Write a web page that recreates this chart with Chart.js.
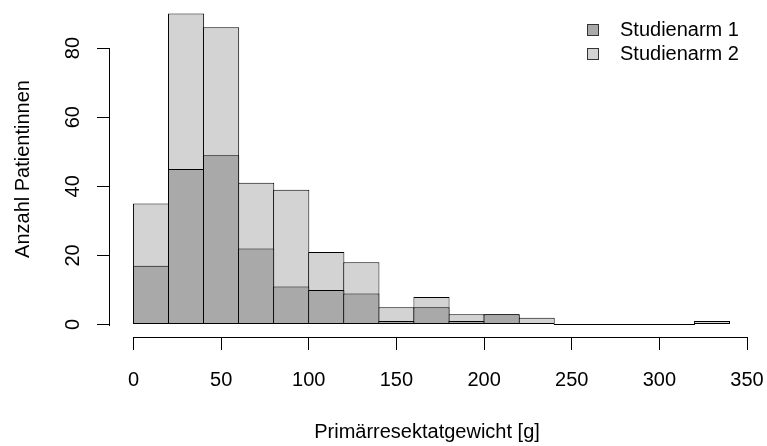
<!DOCTYPE html>
<html>
<head>
<meta charset="utf-8">
<script src="https://cdn.jsdelivr.net/npm/chart.js@4/dist/chart.umd.min.js"></script>
<style>
html, body { margin: 0; padding: 0; background: #fff; }
canvas { display: block; }
</style>
</head>
<body>
<canvas id="hist" width="767" height="446"></canvas>
<script>
// histogram bins, 20 g wide
const binWidth = 20;
const binStarts = [0, 20, 40, 60, 80, 100, 120, 140, 160, 180, 200, 220, 240, 260, 280, 300, 320];
const arm1Counts = [17, 45, 49, 22, 11, 10, 9, 1, 5, 1, 3, 0, 0, 0, 0, 0, 0];
const arm2Counts = [18, 45, 37, 19, 28, 11, 9, 4, 3, 2, 0, 2, 0, 0, 0, 0, 1];
const xTicks = [0, 50, 100, 150, 200, 250, 300, 350];
const yTicks = [0, 20, 40, 60, 80];
const xTitle = 'Primärresektatgewicht [g]';

const FONT = "'Liberation Sans', Arial, sans-serif";
Chart.defaults.font.family = FONT;
Chart.defaults.font.size = 20;
Chart.defaults.color = '#000';

const binCenter = (i) => binStarts[i] + binWidth / 2;

// arm 1 drawn over the combined count, so the light part shows arm 2
const arm1Data = arm1Counts.map((c, i) => ({ x: binCenter(i), y: c }));
const totalData = arm2Counts.map((c, i) => ({ x: binCenter(i), y: arm1Counts[i] + c }));

// R-like axes: line only between first and last tick, rotated y labels, legend box
const rAxes = {
	id: 'rAxes',
	afterDraw(chart) {
		const ctx = chart.ctx;
		const xs = chart.scales.x, ys = chart.scales.y;
		const area = chart.chartArea;
		ctx.save();
		ctx.fillStyle = '#000';

		// axis lines as 1px rects
		const by = Math.round(area.bottom);
		const x0 = Math.round(xs.getPixelForValue(xTicks[0]));
		const x1 = Math.round(xs.getPixelForValue(xTicks[xTicks.length - 1]));
		ctx.fillRect(x0, by, x1 - x0 + 1, 1);
		const lx = Math.round(area.left) - 1;
		const y0 = Math.round(ys.getPixelForValue(yTicks[0]));
		const y1 = Math.round(ys.getPixelForValue(yTicks[yTicks.length - 1]));
		ctx.fillRect(lx, y1, 1, y0 - y1 + 1);

		ctx.font = '20px ' + FONT;
		ctx.textAlign = 'center';
		ctx.textBaseline = 'middle';
		yTicks.forEach((v) => {
			ctx.save();
			ctx.translate(area.left - 36.5, ys.getPixelForValue(v));
			ctx.rotate(-Math.PI / 2);
			ctx.fillText(String(v), 0, 0);
			ctx.restore();
		});

		// x axis title, centred a little left of the plot middle
		ctx.textBaseline = 'alphabetic';
		ctx.fillText(xTitle, 427, 438);

		// legend
		ctx.textAlign = 'left';
		ctx.textBaseline = 'middle';
		ctx.lineWidth = 1;
		chart.data.datasets.forEach((ds, i) => {
			const cy = 30 + i * 24;
			ctx.fillStyle = ds.backgroundColor;
			ctx.fillRect(587.5, cy - 5.5, 11, 11);
			ctx.strokeStyle = '#333';
			ctx.strokeRect(587.5, cy - 5.5, 11, 11);
			ctx.fillStyle = '#000';
			ctx.fillText(ds.label, 620, cy);
		});
		ctx.restore();
	}
};

new Chart(document.getElementById('hist'), {
	type: 'bar',
	data: {
		datasets: [{
			label: 'Studienarm 1',
			data: arm1Data,
			backgroundColor: '#a9a9a9',
		}, {
			label: 'Studienarm 2',
			data: totalData,
			backgroundColor: '#d3d3d3',
			minBarLength: 1,
		}]
	},
	options: {
		responsive: false,
		animation: false,
		devicePixelRatio: 1,
		layout: { padding: { top: 1, left: 0, right: 0, bottom: 0 } },
		datasets: {
			bar: {
				grouped: false,
				borderColor: '#000',
				borderWidth: 1,
				borderSkipped: false,
				categoryPercentage: 1,
				barPercentage: 1.03,
			}
		},
		plugins: {
			legend: { display: false },
			tooltip: { enabled: false },
		},
		scales: {
			x: {
				type: 'linear',
				offset: false,
				min: -13.4,
				max: 361.4,
				afterBuildTicks: (s) => { s.ticks = xTicks.map((v) => ({ value: v })); },
				afterFit: (s) => { s.height = 109; s.paddingLeft = 0; s.paddingRight = 0; },
				border: { display: false },
				grid: { offset: false, drawOnChartArea: false, drawTicks: true, tickLength: 13, color: '#000' },
				ticks: { padding: 18, maxRotation: 0, autoSkip: false, color: '#000' },
				title: { display: false },
			},
			y: {
				type: 'linear',
				min: -3.6,
				max: 93.6,
				afterBuildTicks: (s) => { s.ticks = yTicks.map((v) => ({ value: v })); },
				afterFit: (s) => { s.width = 110; s.paddingTop = 0; s.paddingBottom = 0; },
				border: { display: false },
				grid: { drawOnChartArea: false, drawTicks: true, tickLength: 13, color: '#000' },
				ticks: { display: false },
				title: { display: true, text: 'Anzahl Patientinnen', color: '#000', padding: { top: 11, bottom: 0 } },
			}
		}
	},
	plugins: [rAxes]
});
</script>
</body>
</html>
